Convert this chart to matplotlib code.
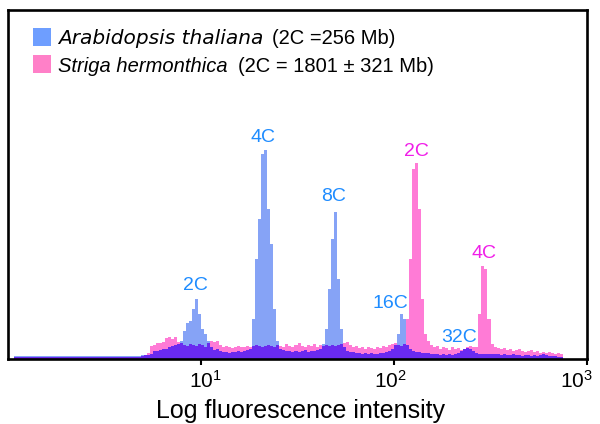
import numpy as np
import matplotlib
matplotlib.use("Agg")
import matplotlib.pyplot as plt
from matplotlib.patches import Rectangle
from matplotlib.ticker import NullLocator
from matplotlib.transforms import ScaledTranslation

plt.rcParams['font.family'] = ['Liberation Sans', 'DejaVu Sans']
plt.rcParams['mathtext.fontset'] = 'custom'
plt.rcParams['mathtext.rm'] = 'Liberation Sans'
plt.rcParams['mathtext.it'] = 'Liberation Sans:italic'

# ---- data: counts per log channel (192 channels over 3 decades) ----
arabidopsis = (
    [0, 0]
    + [3] * 40 + [3, 3, 4, 4]
    + [4, 5, 8, 8, 9, 10, 10, 12, 13, 14, 15]
    + [18, 28, 36, 38, 50, 60, 45, 30, 25, 18, 12]
    + [9, 10, 8, 7, 7, 6, 7, 7, 8, 7, 8, 9, 10]
    + [40, 100, 140, 205, 209, 150, 115, 50, 18]
    + [10, 9, 8, 8, 7, 8, 7, 8, 9, 7, 8, 8, 9, 10]
    + [15, 30, 70, 120, 147, 80, 30, 12]
    + [8, 7, 7, 6, 6, 5, 6, 5, 6, 5, 5, 6, 6, 7, 8, 10, 14]
    + [25, 45, 40]
    + [14, 10, 8, 7, 7, 6, 6]
    + [6, 5, 5, 5, 4, 5, 4, 5, 4, 5, 6, 8, 10, 11, 10, 8]
    + [6, 5, 5, 5, 5, 5]
    + [5, 5, 4, 5, 4, 4, 5, 4, 4, 3, 4, 4, 3, 4, 3, 4, 5, 4, 3, 3, 3, 2, 2]
    + [0] * 8
)
striga = (
    [0, 0]
    + [2] * 40 + [2, 2, 3, 4]
    + [6, 13, 14, 16, 16, 17, 21, 22, 20, 22, 17]
    + [16, 14, 13, 15, 14, 13, 15, 14, 12, 16, 18]
    + [17, 18, 14, 12, 13, 12, 11, 12, 13, 12, 12, 13, 12]
    + [13, 14, 13, 12, 13, 14, 13, 12, 14]
    + [13, 12, 15, 13, 12, 14, 16, 13, 12, 14, 13, 15, 12, 14]
    + [13, 14, 13, 14, 13, 14, 15, 16]
    + [17, 14, 12, 13, 11, 12, 10, 12, 11, 10, 12, 11, 13, 12, 14, 15, 16]
    + [14, 13, 15]
    + [40, 100, 190, 196, 150, 60, 25]
    + [18, 14, 12, 13, 10, 12, 11, 9, 12, 10, 11, 9, 10, 12, 13, 12]
    + [12, 45, 93, 90, 40, 15]
    + [12, 11, 10, 11, 9, 10, 8, 9, 10, 8, 7, 8, 9, 7, 8, 6, 7, 6, 7, 6, 5, 6, 5]
    + [0] * 8
)
xticks = [10, 100, 1000]
xticklabels = [r'$10^{1}$', r'$10^{2}$', r'$10^{3}$']
legend_species = ['Arabidopsis thaliana', 'Striga hermonthica']
legend_sizes = ['(2C =256 Mb)', '(2C = 1801 \u00b1 321 Mb)']
peak_labels_a = ['2C', '4C', '8C', '16C', '32C']
peak_labels_s = ['2C', '4C']

a = np.array(arabidopsis, dtype=float)
s = np.array(striga, dtype=float)
n = len(a)
edges = 10 ** (3.0 * np.arange(n + 1) / n)

BLUE = '#86a3f6'
PINK = '#ff7bd6'
PURPLE = '#6a2af0'

W, H = 600, 424
fig = plt.figure(figsize=(W / 100, H / 100), dpi=100)
ax = fig.add_axes([8 / W, 65 / H, 579 / W, 349 / H])

ax.stairs(a, edges, fill=True, color=BLUE, lw=0)
ax.stairs(s, edges, fill=True, color=PINK, lw=0)
ax.stairs(np.minimum(a, s), edges, fill=True, color=PURPLE, lw=0)

ax.set_xscale('log')
ax.set_xlim(1, 1000)
ax.set_ylim(0, 349)
ax.set_yticks([])
ax.set_xticks(xticks)
ax.set_xticklabels(xticklabels)
ax.xaxis.set_minor_locator(NullLocator())
ax.tick_params(axis='x', direction='out', length=4, width=1.5, pad=4,
               labelsize=15, colors='black')
for lbl, dx in zip(ax.get_xticklabels(), [4, -4, -11]):
    lbl.set_transform(lbl.get_transform()
                      + ScaledTranslation(dx / 100, 0, fig.dpi_scale_trans))
for sp in ax.spines.values():
    sp.set_linewidth(1.9)
    sp.set_color('black')


def fx(px):
    return px / W


def fy(py):
    return 1 - py / H


fig.text(fx(301), fy(418), 'Log fluorescence intensity', fontsize=18,
         ha='center', va='baseline')

# legend
legend_fonts = [['DejaVu Sans'], ['Liberation Sans', 'DejaVu Sans']]
for i, (col, sp_name, size_txt, x2, fam) in enumerate(
        zip(['#6e9eff', '#ff80c8'], legend_species, legend_sizes, [272, 238],
            legend_fonts)):
    cy = 37 + 27 * i
    fig.patches.append(Rectangle((fx(33), fy(cy + 8.5)), 18 / W, 17 / H,
                                 transform=fig.transFigure, color=col, lw=0))
    fig.text(fx(58), fy(cy), sp_name, fontsize=14.5,
             style='italic', family=fam, ha='left', va='center_baseline')
    fig.text(fx(x2), fy(cy), size_txt, fontsize=14.5,
             ha='left', va='center_baseline')

# peak labels
LBLUE = '#1e8cff'
LMAG = '#f01ee8'
for lab, (px, py) in zip(peak_labels_a, [(195, 286), (263, 138), (334, 197),
                                         (390, 303), (459, 337)]):
    fig.text(fx(px), fy(py), lab, color=LBLUE, fontsize=14,
             ha='center', va='center')
for lab, (px, py) in zip(peak_labels_s, [(416, 151), (484, 253)]):
    fig.text(fx(px), fy(py), lab, color=LMAG, fontsize=14,
             ha='center', va='center')

fig.savefig('out.png', dpi=100)
